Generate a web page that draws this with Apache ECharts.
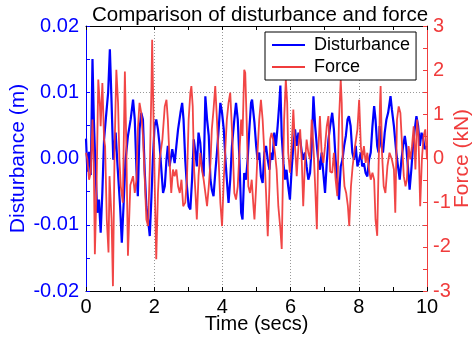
<!DOCTYPE html>
<html>
<head>
<meta charset="utf-8">
<script src="https://cdn.jsdelivr.net/npm/echarts@6/dist/echarts.min.js"></script>
<style>
  html, body { margin: 0; padding: 0; background: #fff; }
  #chart { width: 476px; height: 338px; }
</style>
</head>
<body>
<div id="chart"></div>
<script>
const distTime = [
  0.00, 0.04, 0.09, 0.14, 0.19, 0.23, 0.28, 0.33, 0.38, 0.43, 0.48, 0.53, 0.58, 0.65, 0.70, 0.75, 0.80, 0.87, 0.92, 1.00,
  1.05, 1.10, 1.16, 1.23, 1.31, 1.38, 1.43, 1.48, 1.52, 1.57, 1.62, 1.67, 1.72, 1.77, 1.82, 1.87, 1.92, 1.96, 2.01, 2.06,
  2.11, 2.16, 2.21, 2.26, 2.31, 2.36, 2.40, 2.45, 2.53, 2.60, 2.65, 2.70, 2.77, 2.82, 2.86, 2.91, 2.96, 3.01, 3.06, 3.11,
  3.16, 3.21, 3.25, 3.30, 3.35, 3.40, 3.45, 3.50, 3.55, 3.60, 3.65, 3.69, 3.74, 3.79, 3.84, 3.89, 3.94, 3.99, 4.04, 4.09,
  4.13, 4.18, 4.23, 4.28, 4.35, 4.40, 4.45, 4.50, 4.55, 4.59, 4.64, 4.69, 4.74, 4.79, 4.84, 4.87, 4.94, 4.99, 5.03, 5.08,
  5.13, 5.18, 5.23, 5.28, 5.33, 5.38, 5.42, 5.47, 5.52, 5.57, 5.62, 5.67, 5.70, 5.74, 5.79, 5.84, 5.88, 5.93, 5.98, 6.03,
  6.08, 6.13, 6.18, 6.23, 6.28, 6.33, 6.37, 6.42, 6.47, 6.52, 6.57, 6.62, 6.67, 6.72, 6.77, 6.81, 6.86, 6.91, 6.96, 7.01,
  7.06, 7.11, 7.16, 7.22, 7.27, 7.32, 7.37, 7.42, 7.47, 7.52, 7.57, 7.62, 7.67, 7.71, 7.76, 7.81, 7.86, 7.91, 7.96, 8.01,
  8.06, 8.10, 8.15, 8.20, 8.25, 8.30, 8.35, 8.40, 8.45, 8.49, 8.54, 8.58, 8.61, 8.66, 8.71, 8.76, 8.81, 8.86, 8.93, 8.97,
  9.03, 9.10, 9.15, 9.20, 9.25, 9.30, 9.35, 9.39, 9.44, 9.49, 9.54, 9.59, 9.64, 9.69, 9.74, 9.79, 9.84, 9.89, 9.93, 9.98
];
const distValue = [
  0.0030, -0.0020, 0.0010, -0.0025, 0.0150, 0.0059, -0.0017, -0.0082, -0.0062, -0.0112, -0.0050, 0.0029, 0.0059, 0.0100, 0.0165, 0.0084, -0.0002, 0.0039, -0.0007, -0.0072,
  -0.0127, -0.0072, -0.0002, 0.0034, 0.0059, 0.0089, 0.0059, -0.0017, -0.0057, 0.0044, 0.0069, 0.0059, -0.0017, -0.0072, -0.0092, -0.0117, -0.0057, -0.0002, 0.0049, 0.0059,
  0.0044, 0.0019, -0.0017, -0.0052, -0.0042, -0.0002, 0.0019, -0.0012, 0.0014, -0.0007, 0.0019, 0.0044, 0.0069, 0.0084, 0.0059, -0.0002, -0.0042, -0.0072, -0.0077, -0.0032,
  0.0029, 0.0009, -0.0012, 0.0039, 0.0024, -0.0012, -0.0027, 0.0094, 0.0059, 0.0034, -0.0032, -0.0047, -0.0057, -0.0022, 0.0009, 0.0044, 0.0084, 0.0069, 0.0044, -0.0002,
  -0.0032, -0.0067, -0.0032, 0.0019, 0.0059, 0.0084, 0.0059, -0.0002, -0.0082, -0.0092, -0.0022, -0.0032, -0.0002, 0.0044, 0.0084, 0.0089, 0.0054, 0.0019, -0.0002, 0.0009,
  -0.0027, -0.0037, 0.0009, 0.0019, -0.0002, -0.0017, 0.0009, -0.0002, 0.0039, 0.0019, 0.0049, 0.0084, 0.0110, 0.0034, -0.0007, -0.0032, -0.0017, -0.0042, -0.0062, -0.0017,
  0.0019, 0.0044, 0.0019, 0.0039, 0.0029, 0.0009, -0.0002, 0.0009, -0.0012, -0.0032, -0.0022, 0.0019, 0.0094, 0.0049, 0.0019, -0.0002, -0.0017, 0.0009, -0.0022, -0.0052,
  -0.0007, 0.0029, 0.0049, 0.0069, 0.0044, -0.0002, -0.0032, -0.0062, -0.0012, -0.0002, 0.0019, 0.0034, 0.0059, 0.0064, 0.0049, 0.0009, -0.0002, 0.0019, -0.0012, -0.0002,
  0.0009, -0.0012, -0.0007, -0.0022, -0.0027, -0.0002, 0.0009, 0.0049, 0.0079, 0.0059, 0.0019, 0.0009, 0.0049, 0.0019, 0.0009, 0.0039, 0.0059, 0.0069, 0.0094, 0.0074,
  0.0049, 0.0009, -0.0012, -0.0032, -0.0002, 0.0019, 0.0034, 0.0019, -0.0012, -0.0047, -0.0017, 0.0019, 0.0044, 0.0064, 0.0049, 0.0019, 0.0039, 0.0029, 0.0014, 0.0019
];

const forceTime = [
  0.00, 0.04, 0.09, 0.14, 0.19, 0.23, 0.26, 0.31, 0.36, 0.41, 0.43, 0.48, 0.53, 0.56, 0.61, 0.66, 0.69, 0.75, 0.79, 0.84,
  0.89, 0.94, 0.98, 1.02, 1.08, 1.14, 1.18, 1.23, 1.30, 1.38, 1.43, 1.48, 1.52, 1.57, 1.62, 1.67, 1.72, 1.77, 1.82, 1.87,
  1.92, 1.94, 1.98, 2.02, 2.06, 2.11, 2.16, 2.24, 2.31, 2.36, 2.40, 2.45, 2.50, 2.55, 2.60, 2.65, 2.70, 2.75, 2.80, 2.85,
  2.91, 2.96, 3.01, 3.06, 3.09, 3.13, 3.17, 3.21, 3.25, 3.30, 3.35, 3.40, 3.45, 3.50, 3.55, 3.60, 3.65, 3.69, 3.74, 3.79,
  3.84, 3.89, 3.94, 3.99, 4.04, 4.09, 4.13, 4.18, 4.23, 4.28, 4.30, 4.35, 4.40, 4.45, 4.50, 4.55, 4.59, 4.64, 4.67, 4.71,
  4.76, 4.81, 4.86, 4.91, 4.94, 4.99, 5.03, 5.08, 5.13, 5.18, 5.23, 5.28, 5.33, 5.38, 5.40, 5.44, 5.49, 5.54, 5.59, 5.64,
  5.70, 5.74, 5.77, 5.81, 5.86, 5.90, 5.93, 5.98, 6.03, 6.08, 6.13, 6.18, 6.23, 6.28, 6.33, 6.37, 6.42, 6.47, 6.52, 6.57,
  6.62, 6.67, 6.72, 6.77, 6.81, 6.86, 6.91, 6.96, 7.01, 7.06, 7.11, 7.16, 7.22, 7.27, 7.32, 7.37, 7.42, 7.47, 7.50, 7.53,
  7.58, 7.63, 7.68, 7.72, 7.77, 7.82, 7.89, 7.96, 8.01, 8.06, 8.10, 8.15, 8.20, 8.25, 8.30, 8.35, 8.40, 8.45, 8.49, 8.54,
  8.58, 8.62, 8.64, 8.68, 8.73, 8.78, 8.84, 8.90, 8.97, 9.03, 9.07, 9.12, 9.17, 9.22, 9.27, 9.32, 9.37, 9.41, 9.46, 9.51,
  9.56, 9.61, 9.66, 9.71, 9.75, 9.80, 9.85, 9.90, 9.95, 10.00
];
const forceValue = [
  0.13, -0.02, -0.48, -0.32, 0.88, -0.25, -2.17, -0.63, 1.79, 1.18, 0.73, 1.71, 0.43, 0.28, -1.38, -2.13, -0.40, -1.38, -2.89, 0.28,
  2.01, 1.26, -0.02, -0.63, -1.00, 1.97, 0.40, -2.20, -0.60, -0.40, -0.78, -0.48, 0.66, 1.26, 1.03, 0.51, -0.40, -1.38, -1.53, -0.25,
  1.64, 2.69, 0.88, -0.78, -2.28, -0.78, -0.02, 0.43, 1.18, 1.33, 0.88, -0.02, -0.78, -0.25, -0.40, -0.25, -0.63, -0.78, -0.48, -1.08,
  -1.00, -0.48, 0.88, 1.49, 1.64, 1.18, -0.25, -0.78, -1.38, -0.40, 0.13, -0.25, -0.48, -0.78, -1.08, -0.63, -0.10, 0.66, 1.11, 1.64,
  0.88, -0.02, -1.00, -1.53, -0.48, 0.28, 0.88, 1.26, 1.49, 0.66, 0.28, -0.78, -0.93, -0.63, 0.13, 0.88, 0.51, 2.01, 1.94, 0.88,
  -0.63, -0.78, -0.48, -1.08, -1.38, -0.63, 0.13, 0.88, 1.33, 0.88, 0.13, -0.78, -1.76, -0.63, 0.43, 0.58, 0.43, 0.13, -0.25, -1.08,
  -1.60, -2.05, -0.63, 0.88, 1.79, 1.26, 0.13, -0.32, 0.28, 1.11, 0.28, -0.40, 0.28, 0.66, -0.10, -1.08, -0.10, 0.43, 0.13, -0.02,
  0.88, 0.28, -0.63, -1.60, 0.13, 0.96, 0.13, -0.10, 0.28, 0.73, 0.96, -0.30, -0.32, 0.13, -0.48, -0.85, 0.88, 1.79, 1.26, -0.02,
  -0.63, -0.78, -1.08, -1.53, -0.63, -0.17, 0.28, 0.66, 1.33, 0.28, -0.02, 0.28, -0.10, 0.13, -0.25, -0.48, -0.32, -0.48, -1.38, -1.75,
  -0.20, 1.20, 1.64, 0.13, -0.63, -0.78, -0.17, 0.13, -0.02, -0.25, -1.23, 0.88, 1.18, 1.03, 0.28, -0.40, -0.63, -0.48, 0.28, -0.02,
  0.28, 0.73, -0.25, 0.88, 0.51, -1.08, -0.02, 0.51, 0.66, -0.02
];

const font = 'Liberation Sans, Arial, sans-serif';
const blue = '#0000ff';
const red = '#f03c3c';

const pairs = (xs, ys) => xs.map((x, i) => [x, ys[i]]);

const chart = echarts.init(document.getElementById('chart'));

chart.setOption({
  animation: false,
  title: {
    text: 'Comparison of disturbance and force',
    left: 255,
    textAlign: 'center',
    top: 0,
    textStyle: { color: '#000', fontSize: 20.5, fontWeight: 'normal', fontFamily: font },
  },
  legend: {
    left: 265,
    top: 32,
    orient: 'vertical',
    icon: 'rect',
    itemWidth: 33,
    itemHeight: 2,
    itemGap: 2,
    padding: [3, 6, 3, 7],
    borderColor: '#000',
    borderWidth: 1,
    backgroundColor: '#fff',
    textStyle: { color: '#000', fontSize: 18, fontFamily: font, lineHeight: 20, padding: [0, 0, 0, 4] },
    data: ['Disturbance', 'Force'],
  },
  grid: { left: 86, right: 49, top: 26, bottom: 47, outerBoundsMode: 'none' },
  xAxis: [
    {
      type: 'value',
      min: 0,
      max: 10,
      interval: 2,
      name: 'Time (secs)',
      nameLocation: 'middle',
      nameGap: 23,
      nameMoveOverlap: false,
      nameTextStyle: { color: '#000', fontSize: 20, fontFamily: font },
      axisLine: { onZero: false, lineStyle: { color: '#000', width: 1 } },
      axisTick: { inside: true, length: 4, lineStyle: { color: '#000' } },
      minorTick: { show: true, splitNumber: 2, length: 4, lineStyle: { color: '#000' } },
      axisLabel: { color: '#000', fontSize: 20, fontFamily: font, margin: 6 },
      splitLine: { show: true, lineStyle: { color: '#999', type: [1, 2], width: 1 } },
    },
    {
      type: 'value',
      position: 'top',
      min: 0,
      max: 10,
      interval: 2,
      axisLine: { onZero: false, lineStyle: { color: '#000', width: 1 } },
      axisTick: { inside: true, length: 4, lineStyle: { color: '#000' } },
      minorTick: { show: true, splitNumber: 2, length: 4, lineStyle: { color: '#000' } },
      axisLabel: { show: false },
      splitLine: { show: false },
    },
  ],
  yAxis: [
    {
      type: 'value',
      min: -0.02,
      max: 0.02,
      interval: 0.01,
      name: 'Disturbance (m)',
      nameLocation: 'middle',
      nameGap: 57,
      nameMoveOverlap: false,
      nameTextStyle: { color: blue, fontSize: 21, fontFamily: font },
      axisLine: { show: true, onZero: false, lineStyle: { color: blue, width: 1 } },
      axisTick: { inside: true, length: 4, lineStyle: { color: blue } },
      minorTick: { show: true, splitNumber: 2, length: 4, lineStyle: { color: blue } },
      axisLabel: { color: blue, fontSize: 20, fontFamily: font, margin: 7, formatter: v => v.toFixed(2) },
      splitLine: { show: true, lineStyle: { color: '#999', type: [1, 2], width: 1 } },
    },
    {
      type: 'value',
      min: -3,
      max: 3,
      interval: 1,
      name: 'Force (kN)',
      nameLocation: 'middle',
      nameGap: 25,
      nameMoveOverlap: false,
      nameRotate: 90,
      nameTextStyle: { color: red, fontSize: 21, fontFamily: font },
      axisLine: { show: true, onZero: false, lineStyle: { color: red, width: 1 } },
      axisTick: { inside: true, length: 4, lineStyle: { color: red } },
      minorTick: { show: true, splitNumber: 2, length: 4, lineStyle: { color: red } },
      axisLabel: { color: red, fontSize: 20, fontFamily: font, margin: 6 },
      splitLine: { show: false },
    },
  ],
  series: [
    {
      name: 'Disturbance',
      type: 'line',
      xAxisIndex: 0,
      yAxisIndex: 0,
      data: pairs(distTime, distValue),
      showSymbol: false,
      color: blue,
      lineStyle: { color: blue, width: 2.2 },
      z: 2,
    },
    {
      name: 'Force',
      type: 'line',
      xAxisIndex: 0,
      yAxisIndex: 1,
      data: pairs(forceTime, forceValue),
      showSymbol: false,
      color: red,
      lineStyle: { color: red, width: 1.8, opacity: 0.95 },
      z: 3,
    },
  ],
});
</script>
</body>
</html>
